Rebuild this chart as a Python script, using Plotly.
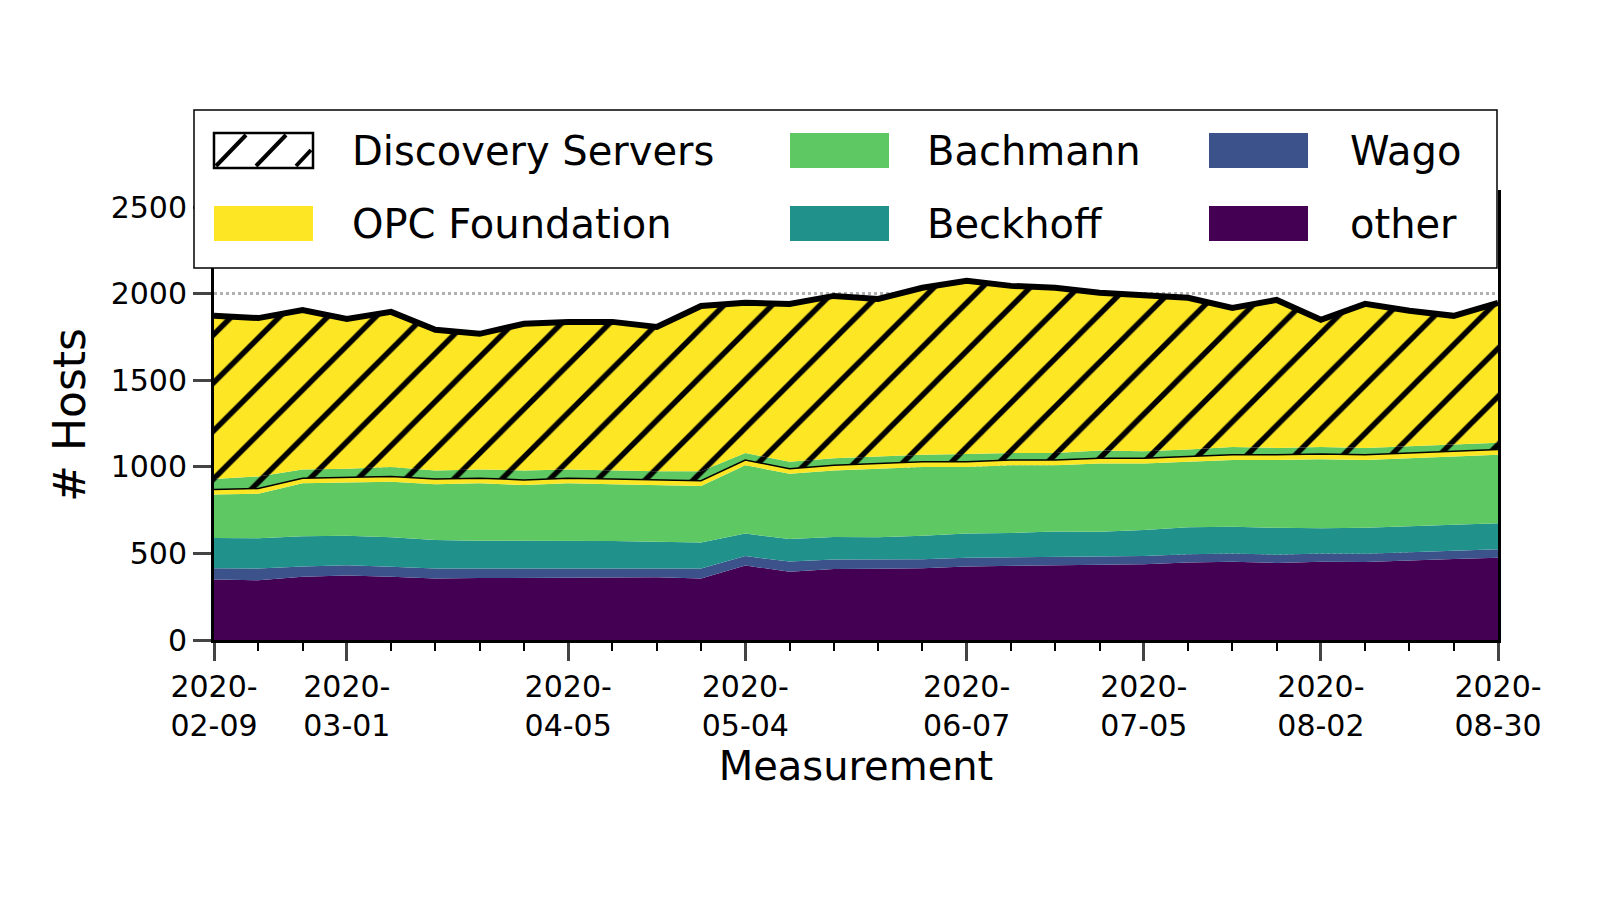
import plotly.graph_objects as go
import pandas as pd

dates = list(pd.date_range("2020-02-09", periods=30, freq="7D").strftime("%Y-%m-%d"))
other = [350,345,365,372,365,355,358,358,360,362,362,355,430,395,410,412,415,425,428,432,438,438,448,452,445,452,450,460,468,475]
wago = [65,68,60,60,58,58,55,55,55,55,55,58,55,58,55,52,52,50,50,50,48,48,48,48,48,48,48,48,50,50]
beckhoff = [175,175,175,170,170,165,160,160,160,155,150,150,130,130,130,130,135,140,140,145,140,150,155,155,155,145,150,150,150,150]
bachmann = [250,257,305,308,322,322,332,322,330,328,328,327,395,377,385,396,398,385,392,383,394,384,379,385,392,400,392,392,392,395]
opc = [30]*30
ds_bachmann = [60,70,50,50,55,50,50,55,50,50,50,55,40,40,40,40,40,45,40,40,45,40,40,45,40,40,40,40,40,40]
ds_opc = [943,915,922,865,896,812,784,847,853,858,834,955,868,912,938,911,965,1000,966,955,911,904,877,804,855,735,832,782,743,808]
tick_idx = [0,3,8,12,17,21,25,29]
tick_text = ["2020-<br>02-09","2020-<br>03-01","2020-<br>04-05","2020-<br>05-04","2020-<br>06-07","2020-<br>07-05","2020-<br>08-02","2020-<br>08-30"]
legend_names = ["Discovery Servers", "Bachmann", "Wago", "OPC Foundation", "Beckhoff", "other"]

C = dict(other="#440154", wago="#3b528b", beck="#21918c", bach="#5ec962", opc="#fde725")
fig = go.Figure()
def area(y, name, color, pattern=None):
    fig.add_trace(go.Scatter(x=dates, y=y, name=name, stackgroup="s", mode="lines",
        line=dict(width=0, color=color), fillcolor=color, showlegend=False, fillpattern=pattern))
hatch = lambda bg: dict(shape="/", size=34, solidity=0.16, fgcolor="black", bgcolor=bg, fillmode="replace")
area(other, "other", C["other"])
area(wago, "Wago", C["wago"])
area(beckhoff, "Beckhoff", C["beck"])
area(bachmann, "Bachmann", C["bach"])
area(opc, "OPC Foundation", C["opc"])
area(ds_bachmann, "Discovery Servers (Bachmann)", C["bach"], hatch(C["bach"]))
area(ds_opc, "Discovery Servers", C["opc"], hatch(C["opc"]))
total = [sum(v) for v in zip(other, wago, beckhoff, bachmann, opc, ds_bachmann, ds_opc)]
base = [sum(v) for v in zip(other, wago, beckhoff, bachmann, opc)]
fig.add_trace(go.Scatter(x=dates, y=base, mode="lines", line=dict(color="black", width=1.5), showlegend=False))
fig.add_trace(go.Scatter(x=dates, y=total, mode="lines", line=dict(color="black", width=6), showlegend=False))

# custom legend (2 rows x 3 columns)
L, W, B, H = 206, 1284, 632, 450
px = lambda x: (x - L) / W
py = lambda y: (B - y) / H
shapes = [dict(type="rect", xref="paper", yref="paper", x0=px(186), x1=px(1489), y0=py(260), y1=py(102),
               fillcolor="white", line=dict(color="black", width=1.5), layer="above")]
annotations = []
colors = ["hatch", C["bach"], C["wago"], C["opc"], C["beck"], C["other"]]
sw_x = [206, 782, 1201]
tx_x = [342, 917, 1340]
rows = [(125, 160), (198, 233)]
for i, (name, col) in enumerate(zip(legend_names, colors)):
    r, c = divmod(i, 3)
    y0, y1 = rows[r]
    if col == "hatch":
        shapes.append(dict(type="rect", xref="paper", yref="paper", x0=px(sw_x[c]), x1=px(sw_x[c] + 99),
                           y0=py(y1), y1=py(y0), fillcolor="white", line=dict(color="black", width=2.5), layer="above"))
        for a in (212, 252, 292):
            shapes.append(dict(type="line", xref="paper", yref="paper", x0=px(a - 4), y0=py(y1 - 2),
                               x1=px(min(a + 26, 303)), y1=py(y0 + 2 + max(0, a + 26 - 303)),
                               line=dict(color="black", width=4), layer="above"))
    else:
        shapes.append(dict(type="rect", xref="paper", yref="paper", x0=px(sw_x[c]), x1=px(sw_x[c] + 99),
                           y0=py(y1), y1=py(y0), fillcolor=col, line=dict(width=0), layer="above"))
    annotations.append(dict(xref="paper", yref="paper", x=px(tx_x[c]), y=py((y0 + y1) / 2), text=name,
                            showarrow=False, xanchor="left", yanchor="middle", font=dict(size=40)))

font = "DejaVu Sans"
fig.update_layout(
    width=1600, height=900, paper_bgcolor="white", plot_bgcolor="white", showlegend=False,
    margin=dict(l=206, r=110, t=182, b=268),
    font=dict(family=font, color="black", size=26),
    shapes=shapes, annotations=annotations,
    xaxis=dict(range=[dates[0], dates[-1]], tickvals=[dates[i] for i in tick_idx], ticktext=tick_text,
        ticks="outside", ticklen=18, tickwidth=3, showline=True, linewidth=3, linecolor="black",
        showgrid=False, tickfont=dict(size=30),
        title=dict(text="Measurement", font=dict(size=40), standoff=5),
        minor=dict(tickvals=dates, ticks="outside", ticklen=8, tickwidth=2, tickcolor="black")),
    yaxis=dict(range=[0, 2600], tickvals=[0,500,1000,1500,2000,2500], ticks="outside", ticklen=18,
        tickwidth=3, showline=True, linewidth=3, linecolor="black", mirror=True,
        showgrid=True, gridcolor="#b0b0b0", griddash="dot", gridwidth=3, tickfont=dict(size=30),
        title=dict(text="# Hosts", font=dict(size=44), standoff=12)),
)
fig.write_html("out.html")
